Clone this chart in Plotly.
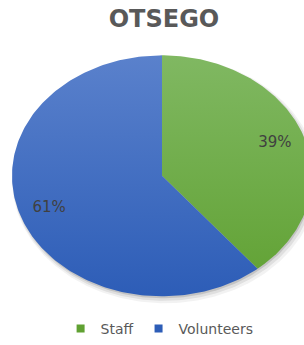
import numpy as np
import plotly.graph_objects as go

title = "OTSEGO"
categories = ["Staff", "Volunteers"]
values = [39, 61]
colors_top = ["#80b862", "#5a81cc"]
colors_bottom = ["#60a132", "#2d5db7"]

W, H = 304, 345
cx, cy, rx, ry = 162.0, 179.5, 150.0, 123.0

fig = go.Figure()

def ellipse_pts(a0, a1, n=200):
    t = np.linspace(a0, a1, n)
    return cx + rx * np.sin(t), cy - ry * np.cos(t)

# shadow
for dx, dy, grow, op in [(3, 4, 3, 0.05), (2, 3, 1.5, 0.08), (1, 2, 0, 0.12)]:
    t = np.linspace(0, 2 * np.pi, 300)
    fig.add_trace(go.Scatter(
        x=cx + dx + (rx + grow) * np.sin(t), y=cy + dy - (ry + grow) * np.cos(t),
        mode="lines", line=dict(width=0), fill="toself",
        fillcolor=f"rgba(0,0,0,{op})", hoverinfo="skip", showlegend=False))

total = sum(values)
start = 0.0
mids = []
for cat, v, ct, cb in zip(categories, values, colors_top, colors_bottom):
    a0 = start
    a1 = start + 2 * np.pi * v / total
    xs, ys = ellipse_pts(a0, a1)
    xs = np.concatenate([[cx], xs, [cx]])
    ys = np.concatenate([[cy], ys, [cy]])
    fig.add_trace(go.Scatter(
        x=xs, y=ys, mode="lines", line=dict(width=0), fill="toself",
        fillgradient=dict(type="vertical", start=cy - ry, stop=cy + ry,
                          colorscale=[[0, ct], [1, cb]]),
        hoverinfo="skip", showlegend=False))
    mids.append((a0 + a1) / 2)
    start = a1

f = 0.80
lx = [cx + rx * f * np.sin(m) for m in mids]
ly = [cy - ry * f * np.cos(m) for m in mids]
fig.add_trace(go.Scatter(
    x=lx, y=ly, mode="text", text=[f"{v / total * 100:.0f}%" for v in values],
    textfont=dict(family="DejaVu Sans", size=15, color="#404040"),
    hoverinfo="skip", showlegend=False))

for cat, cb in zip(categories, colors_bottom):
    fig.add_trace(go.Scatter(
        x=[None], y=[None], mode="markers", name=cat,
        marker=dict(symbol="square", size=8, color=cb)))

fig.update_layout(
    width=W, height=H, margin=dict(l=0, r=0, t=0, b=0),
    paper_bgcolor="white", plot_bgcolor="white",
    xaxis=dict(range=[0, W], visible=False, fixedrange=True),
    yaxis=dict(range=[H, 0], visible=False, fixedrange=True),
    title=dict(text=f"<b>{title}</b>", x=164 / W, xanchor="center",
               y=1 - 19 / H, yanchor="middle",
               font=dict(family="DejaVu Sans", size=24, color="#595959")),
    legend=dict(orientation="h", x=0.525, xanchor="center", y=1 - 336 / H,
                yanchor="middle", font=dict(family="DejaVu Sans", size=14, color="#595959"),
                itemwidth=30, tracegroupgap=0, bgcolor="rgba(0,0,0,0)"),
    showlegend=True,
)

fig.write_html("out.html", config={"displayModeBar": False, "staticPlot": True},
               post_script="document.body.style.margin='0';")
